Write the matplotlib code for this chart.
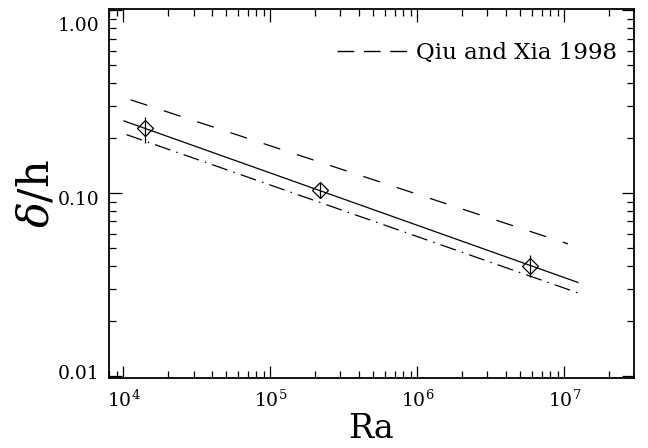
import matplotlib
matplotlib.use("Agg")
import matplotlib.pyplot as plt
import matplotlib.transforms as mtransforms
from matplotlib.lines import Line2D
from matplotlib.ticker import LogLocator, NullFormatter, FixedLocator, FixedFormatter

plt.rcParams['font.family'] = ['DejaVu Serif']
plt.rcParams['mathtext.fontset'] = 'dejavuserif'

# Measured boundary-layer thickness
ra_points = [1.40e4, 2.16e5, 5.82e6]
delta_points = [0.227, 0.104, 0.0402]
err_low = [0.038, 0.010, 0.0055]
err_high = [0.035, 0.010, 0.0057]

# Power-law fit through the measurements (endpoints)
fit_ra = [1.0e4, 1.25e7]
fit_delta = [0.249, 0.0324]

# Qiu and Xia 1998 scaling (endpoints)
qx_ra = [1.12e4, 1.06e7]
qx_delta = [0.324, 0.0528]

# Lower reference scaling (endpoints)
ref_ra = [1.05e4, 1.25e7]
ref_delta = [0.209, 0.0284]

y_ticks = [0.01, 0.1, 1.0]
y_tick_labels = ['0.01', '0.10', '1.00']
x_ticks = [1e4, 1e5, 1e6, 1e7]
x_tick_labels = [r'$10^4$', r'$10^5$', r'$10^6$', r'$10^7$']

fig = plt.figure(figsize=(6.48, 4.48), dpi=100)
ax = fig.add_axes([0.1682, 0.15625, 0.8102, 0.8237])
ax.set_xscale('log')
ax.set_yscale('log')
ax.set_xlim(7980, 2.98e7)
ax.set_ylim(0.00975, 1.017)

ax.plot(fit_ra, fit_delta, color='black', lw=0.9, solid_capstyle='butt')
ax.plot(qx_ra, qx_delta, color='black', lw=0.9, dashes=(14, 14))
ax.plot(ref_ra, ref_delta, color='black', lw=0.9, dashes=(13, 5, 1.2, 5))

ax.errorbar(ra_points, delta_points, yerr=[err_low, err_high], fmt='D',
            mfc='none', mec='black', ms=8.5, mew=0.9, ecolor='black',
            elinewidth=0.9, capsize=0)

qx_handle = Line2D([], [], color='black', lw=1.0, linestyle=(0, (12, 7)))
leg = ax.legend(handles=[qx_handle], labels=['Qiu and Xia 1998'],
                loc='upper right', frameon=False, fontsize=16.5,
                handlelength=3.2, handletextpad=0.25,
                bbox_to_anchor=(0.985, 0.935), borderaxespad=0)

ax.xaxis.set_major_locator(FixedLocator(x_ticks))
ax.xaxis.set_major_formatter(FixedFormatter(x_tick_labels))
ax.xaxis.set_minor_locator(LogLocator(base=10, subs=range(2, 10), numticks=20))
ax.xaxis.set_minor_formatter(NullFormatter())
ax.yaxis.set_major_locator(FixedLocator(y_ticks))
ax.yaxis.set_major_formatter(FixedFormatter(y_tick_labels))
ax.yaxis.set_minor_locator(LogLocator(base=10, subs=range(2, 10), numticks=20))
ax.yaxis.set_minor_formatter(NullFormatter())

ax.tick_params(which='both', direction='in', top=True, right=True,
               width=0.9, colors='black', labelsize=13.5)
ax.tick_params(which='major', length=9, pad=8)
ax.tick_params(which='minor', length=5)
ax.tick_params(axis='y', which='major', pad=7)

for sp in ax.spines.values():
    sp.set_linewidth(1.3)

# nudge the y tick labels to sit like the printed axis
fig.canvas.draw()
shifts = {'0.01': 4, '0.10': -5, '1.00': -14}
for lab in ax.get_yticklabels():
    dy = shifts.get(lab.get_text(), 0)
    lab.set_transform(lab.get_transform() +
                      mtransforms.ScaledTranslation(0, dy / 100, fig.dpi_scale_trans))

ax.set_xlabel('Ra', fontsize=24, labelpad=2)
ax.set_ylabel(r'$\delta$/h', fontsize=31, labelpad=0)

fig.savefig('out.png', dpi=100)
